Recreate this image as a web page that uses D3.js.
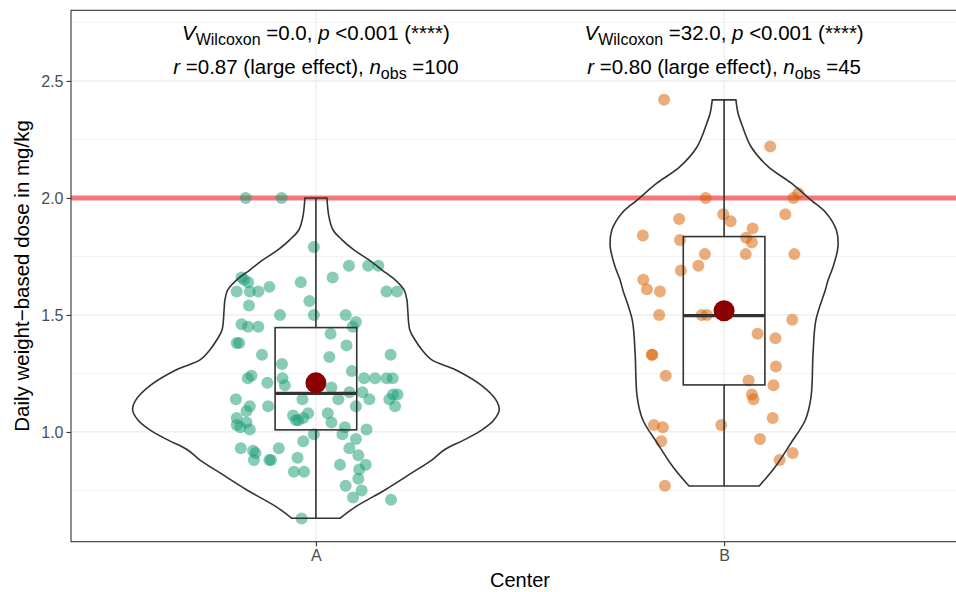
<!DOCTYPE html>
<html>
<head>
<meta charset="utf-8">
<script src="https://cdn.jsdelivr.net/npm/d3@7"></script>
<style>
  body { margin: 0; background: #fff; }
  svg { display: block; font-family: "Liberation Sans", Arial, sans-serif; }
</style>
</head>
<body>
<script>
const WIDTH = 956, HEIGHT = 592;

const centers = ["A", "B"];
const yTicks = [1.0, 1.5, 2.0, 2.5];
const yMinorTicks = [0.75, 1.25, 1.75, 2.25, 2.75];
const refDose = 2.0;
const pointColors = ["#1B9E77", "#D95F02"];

// dose per patient and its horizontal jitter (fraction of a category step)
const dosesA = [2.00, 2.00, 1.79, 1.71, 1.71, 1.71, 1.66, 1.66, 1.64, 1.62,
  1.64, 1.60, 1.60, 1.60, 1.60, 1.60, 1.56, 1.54, 1.50, 1.50,
  1.50, 1.45, 1.46, 1.45, 1.45, 1.42, 1.38, 1.38, 1.33, 1.37,
  1.32, 1.33, 1.29, 1.26, 1.24, 1.23, 1.23, 1.21, 1.20, 1.19,
  1.23, 1.23, 1.23, 1.23, 1.17, 1.17, 1.16, 1.16, 1.14, 1.14,
  1.14, 1.14, 1.14, 1.11, 1.09, 1.11, 1.11, 1.11, 1.08, 1.07,
  1.08, 1.06, 1.05, 1.06, 1.04, 1.03, 1.04, 1.02, 1.01, 1.05,
  1.02, 0.99, 0.99, 1.01, 0.97, 0.96, 0.93, 0.93, 0.93, 0.91,
  0.88, 0.88, 0.88, 0.89, 0.90, 0.86, 0.83, 0.83, 0.86, 0.84,
  0.80, 0.77, 0.75, 0.72, 0.71, 0.63, 1.21, 0.92, 1.65, 1.47];
const jitterA = [-0.172, -0.084, -0.005, 0.081, 0.128, 0.153, 0.041, -0.182, -0.166, -0.114,
  -0.037, -0.194, -0.162, -0.141, 0.173, 0.199, -0.016, -0.164, -0.088, -0.005,
  0.073, 0.090, -0.182, -0.166, -0.141, 0.036, -0.194, -0.188, -0.132, 0.075,
  0.033, 0.183, -0.083, 0.088, -0.158, -0.167, -0.082, -0.119, -0.076, 0.038,
  0.118, 0.145, 0.173, 0.188, 0.082, 0.114, 0.189, 0.200, -0.196, -0.033,
  0.055, 0.131, 0.180, -0.162, -0.170, -0.117, 0.098, 0.194, -0.019, -0.056,
  0.029, -0.194, -0.043, -0.031, 0.038, -0.194, -0.170, -0.185, -0.162, -0.049,
  0.071, 0.065, -0.005, 0.124, 0.098, -0.031, -0.184, -0.091, 0.082, -0.148,
  -0.152, -0.114, -0.110, -0.045, 0.104, 0.059, -0.054, -0.029, 0.122, 0.106,
  0.104, 0.073, 0.112, 0.091, 0.184, -0.035, 0.000, -0.154, -0.176, 0.098];

const dosesB = [2.42, 2.22, 2.00, 2.02, 2.00, 1.93, 1.90, 1.93, 1.91, 1.84,
  1.82, 1.87, 1.83, 1.81, 1.76, 1.76, 1.76, 1.71, 1.69, 1.65,
  1.61, 1.60, 1.50, 1.50, 1.50, 1.48, 1.42, 1.40, 1.33, 1.33,
  1.28, 1.24, 1.22, 1.20, 1.16, 1.14, 1.06, 1.03, 1.02, 1.03,
  0.97, 0.96, 0.91, 0.88, 0.77];
const jitterB = [-0.147, 0.113, -0.045, 0.182, 0.170, -0.002, 0.016, 0.150, -0.110, -0.199,
  -0.108, 0.070, 0.054, 0.068, -0.047, 0.053, 0.172, -0.063, -0.106, -0.198,
  -0.189, -0.157, -0.159, -0.055, -0.042, 0.167, 0.082, 0.126, -0.177, -0.176,
  0.127, -0.143, 0.060, 0.121, 0.068, 0.072, 0.119, -0.172, -0.150, -0.007,
  0.088, -0.154, 0.168, 0.136, -0.145];

// min, q1, median, q3, max
const boxStatsA = [0.631, 1.009, 1.165, 1.446, 2.000];
const boxStatsB = [0.769, 1.201, 1.497, 1.835, 2.419];
const meanDose = [1.21, 1.518];

// violin outline: [dose, half width as fraction of a category step]
const violinA = [[2.000, 0.027], [1.919, 0.032], [1.863, 0.042], [1.821, 0.064], [1.778, 0.093],
  [1.735, 0.130], [1.692, 0.162], [1.650, 0.194], [1.607, 0.216], [1.564, 0.223],
  [1.521, 0.225], [1.436, 0.230], [1.393, 0.243], [1.350, 0.260], [1.308, 0.284],
  [1.265, 0.343], [1.201, 0.404], [1.137, 0.441], [1.094, 0.449], [1.051, 0.436],
  [1.009, 0.407], [0.966, 0.363], [0.923, 0.314], [0.880, 0.284], [0.825, 0.235],
  [0.752, 0.169], [0.679, 0.096], [0.631, 0.059]];
const violinB = [[2.419, 0.029], [2.363, 0.034], [2.321, 0.042], [2.219, 0.066], [2.134, 0.108],
  [2.064, 0.164], [1.991, 0.213], [1.936, 0.250], [1.863, 0.275], [1.792, 0.279],
  [1.706, 0.267], [1.650, 0.255], [1.607, 0.248], [1.479, 0.225], [1.338, 0.218],
  [1.150, 0.213], [1.051, 0.199], [0.953, 0.164], [0.850, 0.125], [0.769, 0.086]];

const statV = ["0.0", "32.0"];
const statR = ["0.87", "0.80"];
const nObs = [100, 45];

const groups = [
  {name: "A", doses: dosesA, jitter: jitterA, box: boxStatsA, violin: violinA},
  {name: "B", doses: dosesB, jitter: jitterB, box: boxStatsB, violin: violinB}
];

const panel = {left: 71, top: 10.3, right: 969, bottom: 541.7};

const x = d3.scalePoint().domain(centers).range([panel.left, panel.right]).padding(0.6);
const step = x.step();
const y = d3.scaleLinear().domain([0.531, 2.802]).range([panel.bottom, panel.top]);

const svg = d3.select("body").append("svg")
  .attr("width", WIDTH)
  .attr("height", HEIGHT);

const plot = svg.append("g");

// grid
plot.append("g").selectAll("line").data(yMinorTicks).join("line")
  .attr("x1", panel.left).attr("x2", panel.right)
  .attr("y1", d => y(d)).attr("y2", d => y(d))
  .attr("stroke", "#ebebeb").attr("stroke-width", 0.6);
plot.append("g").selectAll("line").data(yTicks).join("line")
  .attr("x1", panel.left).attr("x2", panel.right)
  .attr("y1", d => y(d)).attr("y2", d => y(d))
  .attr("stroke", "#ebebeb").attr("stroke-width", 1.2);
plot.append("g").selectAll("line").data(centers).join("line")
  .attr("x1", d => x(d)).attr("x2", d => x(d))
  .attr("y1", panel.top).attr("y2", panel.bottom)
  .attr("stroke", "#ebebeb").attr("stroke-width", 1.2);

// reference dose line
plot.append("line")
  .attr("x1", panel.left).attr("x2", panel.right)
  .attr("y1", y(refDose)).attr("y2", y(refDose))
  .attr("stroke", "#f47878").attr("stroke-width", 5);

// jittered points
groups.forEach((g, gi) => {
  plot.append("g").selectAll("circle").data(g.doses).join("circle")
    .attr("cx", (d, i) => x(g.name) + g.jitter[i] * step)
    .attr("cy", d => y(d))
    .attr("r", 6)
    .attr("fill", pointColors[gi])
    .attr("fill-opacity", 0.52);
});

// boxes
const boxW = 0.2 * step;
groups.forEach(g => {
  const cx = x(g.name);
  const [mn, q1, med, q3, mx] = g.box;
  const b = plot.append("g").attr("stroke", "#333").attr("fill", "none");
  b.append("line").attr("x1", cx).attr("x2", cx).attr("y1", y(q3)).attr("y2", y(mx)).attr("stroke-width", 1.6);
  b.append("line").attr("x1", cx).attr("x2", cx).attr("y1", y(q1)).attr("y2", y(mn)).attr("stroke-width", 1.6);
  b.append("rect").attr("x", cx - boxW / 2).attr("width", boxW)
    .attr("y", y(q3)).attr("height", y(q1) - y(q3)).attr("stroke-width", 1.6);
  b.append("line").attr("x1", cx - boxW / 2).attr("x2", cx + boxW / 2)
    .attr("y1", y(med)).attr("y2", y(med)).attr("stroke-width", 3.2);
});

// violins
groups.forEach(g => {
  const cx = x(g.name);
  const area = d3.area()
    .y(d => y(d[0]))
    .x0(d => cx - d[1] * step)
    .x1(d => cx + d[1] * step)
    .curve(d3.curveCatmullRom);
  plot.append("path").datum(g.violin)
    .attr("d", area)
    .attr("fill", "none")
    .attr("stroke", "#333")
    .attr("stroke-width", 1.6);
});

// means
plot.append("g").selectAll("circle").data(meanDose).join("circle")
  .attr("cx", (d, i) => x(centers[i]))
  .attr("cy", d => y(d))
  .attr("r", 10.5)
  .attr("fill", "#8b0000");

// panel border
svg.append("rect")
  .attr("x", panel.left).attr("y", panel.top)
  .attr("width", panel.right - panel.left).attr("height", panel.bottom - panel.top)
  .attr("fill", "none").attr("stroke", "#333").attr("stroke-width", 1.1);

// axes
const yAxis = svg.append("g")
  .attr("transform", `translate(${panel.left},0)`)
  .call(d3.axisLeft(y).tickValues(yTicks).tickFormat(d3.format(".1f")).tickSize(4.5).tickPadding(3));
const xAxis = svg.append("g")
  .attr("transform", `translate(0,${panel.bottom})`)
  .call(d3.axisBottom(x).tickSize(4.5).tickPadding(3));
[yAxis, xAxis].forEach(a => {
  a.select(".domain").remove();
  a.selectAll(".tick line").attr("stroke", "#333").attr("stroke-width", 1.1);
  a.selectAll(".tick text").attr("fill", "#4d4d4d")
    .style("font-size", "16px").style("font-family", "Liberation Sans, Arial, sans-serif");
});

svg.append("text")
  .attr("x", (panel.left + panel.right) / 2).attr("y", 587)
  .attr("text-anchor", "middle")
  .style("font-size", "20px")
  .text("Center");

svg.append("text")
  .attr("transform", `translate(29,${(panel.top + panel.bottom) / 2}) rotate(-90)`)
  .attr("text-anchor", "middle")
  .style("font-size", "20.5px")
  .text("Daily weight\u2212based dose in mg/kg");

// test annotations
centers.forEach((c, i) => {
  const t1 = svg.append("text")
    .attr("x", x(c)).attr("y", 40)
    .attr("text-anchor", "middle")
    .style("font-size", "20.5px")
    .style("white-space", "pre");
  t1.append("tspan").style("font-style", "italic").text("V");
  t1.append("tspan").style("font-size", "16px").attr("dy", 4.5).text("Wilcoxon");
  t1.append("tspan").attr("dy", -4.5).text(` =${statV[i]}, `);
  t1.append("tspan").style("font-style", "italic").text("p");
  t1.append("tspan").text(" <0.001 (****)");

  const t2 = svg.append("text")
    .attr("x", x(c)).attr("y", 74)
    .attr("text-anchor", "middle")
    .style("font-size", "20.5px")
    .style("white-space", "pre");
  t2.append("tspan").style("font-style", "italic").text("r");
  t2.append("tspan").text(` =${statR[i]} (large effect), `);
  t2.append("tspan").style("font-style", "italic").text("n");
  t2.append("tspan").style("font-size", "16px").attr("dy", 4.5).text("obs");
  t2.append("tspan").attr("dy", -4.5).text(` =${nObs[i]}`);
});
</script>
</body>
</html>
